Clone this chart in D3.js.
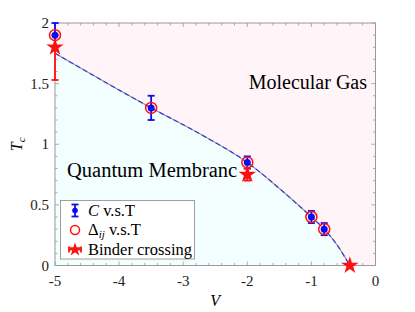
<!DOCTYPE html>
<html><head><meta charset="utf-8">
<script src="https://cdn.jsdelivr.net/npm/d3@7"></script>
<style>
body{margin:0;background:#fff;}
text{font-family:"Liberation Serif","DejaVu Serif",serif;}
</style></head>
<body><svg id="c" width="415" height="312"></svg>
<script>
// ---- data ----
const cV = [-5, -3.5, -2, -1, -0.8];
const cT = [1.9, 1.3, 0.85, 0.4, 0.3];
const cErr = [0.1, 0.1, 0.05, 0.05, 0.05];
const dV = [-5, -3.5, -2, -1, -0.8];
const dT = [1.9, 1.3, 0.85, 0.4, 0.3];
const bV = [-5, -2, -0.4];
const bT = [1.8, 0.75, 0.0];
const bErrLo = [0.27, 0.05, 0.0];
const bErrHi = [0.1, 0.05, 0.0];
const lineV = [-5, -3.5, -2.72, -2, -1.4, -1, -0.8, -0.6, -0.4];
const lineT = [1.75, 1.3, 1.08, 0.85, 0.59, 0.4, 0.3, 0.17, 0.0];
const xTicks = [-5, -4, -3, -2, -1, 0];
const yTicks = [0, 0.5, 1, 1.5, 2];
const xTickLabels = ["-5", "-4", "-3", "-2", "-1", "0"];
const yTickLabels = ["0", "0.5", "1", "1.5", "2"];

const svg = d3.select("#c");
const L = 55, R = 375.5, T = 23, B = 265.5;
const x = d3.scaleLinear().domain([-5, 0]).range([L, R]);
const y = d3.scaleLinear().domain([0, 2]).range([B, T]);

svg.append("defs").append("clipPath").attr("id", "clip")
  .append("rect").attr("x", L).attr("y", T).attr("width", R - L).attr("height", B - T);
const g = svg.append("g").attr("clip-path", "url(#clip)");

const pts = lineV.map((v, i) => [v, lineT[i]]);
g.append("rect").attr("x", L).attr("y", T).attr("width", R - L).attr("height", B - T).attr("fill", "#fff4f8");
const area = d3.area().x(d => x(d[0])).y0(y(0)).y1(d => y(d[1])).curve(d3.curveMonotoneX);
g.append("path").datum(pts).attr("d", area).attr("fill", "#f3ffff");

const line = d3.line().x(d => x(d[0])).y(d => y(d[1])).curve(d3.curveMonotoneX);
g.append("path").datum(pts).attr("d", line).attr("fill", "none").attr("stroke", "#999").attr("stroke-width", 1.2);
g.append("path").datum(pts).attr("d", line).attr("fill", "none").attr("stroke", "#3b3bdc").attr("stroke-width", 1.2).attr("stroke-dasharray", "5,3");

// axes frame and ticks
const axc = "#999";
const minorX = d3.range(-5, 0.001, 0.2);
const minorY = d3.range(0, 2.001, 0.1);
const tk = svg.append("g").attr("stroke", axc).attr("stroke-width", 0.8);
minorX.forEach(v => {
  const isMaj = Math.abs(v - Math.round(v)) < 1e-6;
  const len = isMaj ? 4 : 2.5;
  tk.append("line").attr("x1", x(v)).attr("x2", x(v)).attr("y1", B).attr("y2", B - len);
  tk.append("line").attr("x1", x(v)).attr("x2", x(v)).attr("y1", T).attr("y2", T + len);
});
minorY.forEach(v => {
  const isMaj = Math.abs(v * 2 - Math.round(v * 2)) < 1e-6;
  const len = isMaj ? 4 : 2.5;
  tk.append("line").attr("y1", y(v)).attr("y2", y(v)).attr("x1", L).attr("x2", L + len);
  tk.append("line").attr("y1", y(v)).attr("y2", y(v)).attr("x1", R).attr("x2", R - len);
});
svg.append("rect").attr("x", L).attr("y", T).attr("width", R - L).attr("height", B - T)
  .attr("fill", "none").attr("stroke", axc).attr("stroke-width", 1);

// tick labels
xTicks.forEach((v, i) => {
  svg.append("text").attr("x", x(v)).attr("y", 286).attr("text-anchor", "middle")
    .attr("font-size", 15).attr("fill", "#222").text(xTickLabels[i]);
});
yTicks.forEach((v, i) => {
  svg.append("text").attr("x", 49).attr("y", y(v) + 5).attr("text-anchor", "end")
    .attr("font-size", 15).attr("fill", "#222").text(yTickLabels[i]);
});
// axis labels
svg.append("text").attr("x", x(-2.5)).attr("y", 306).attr("text-anchor", "middle")
  .attr("font-size", 16).attr("font-style", "italic").text("V");
const yl = svg.append("text").attr("transform", "translate(22," + ((T + B) / 2) + ") rotate(-90)")
  .attr("text-anchor", "middle").attr("font-size", 16);
yl.append("tspan").attr("font-style", "italic").text("T");
yl.append("tspan").attr("font-style", "italic").attr("font-size", 11).attr("dy", 3).text("c");

// region labels
svg.append("text").attr("x", 367).attr("y", 89).attr("text-anchor", "end").attr("font-size", 20).text("Molecular Gas");
svg.append("text").attr("x", 67).attr("y", 177).attr("font-size", 20.5).text("Quantum Membranc");

// markers
const blue = "#0b0bf5", red = "#ff1010";
const pg = svg.append("g");
function vErr(gg, cx, cy0, cy1, col, w) {
  gg.append("line").attr("x1", cx).attr("x2", cx).attr("y1", cy0).attr("y2", cy1).attr("stroke", col).attr("stroke-width", w);
  [cy0, cy1].forEach(yy => gg.append("line").attr("x1", cx - 3.5).attr("x2", cx + 3.5).attr("y1", yy).attr("y2", yy).attr("stroke", col).attr("stroke-width", w));
}
cV.forEach((v, i) => vErr(pg, x(v), y(cT[i] - cErr[i]), y(cT[i] + cErr[i]), blue, 1.8));
bV.forEach((v, i) => { if (bErrLo[i] > 0) vErr(pg, x(v), y(bT[i] - bErrLo[i]), y(bT[i] + bErrHi[i]), red, 1.8); });
cV.forEach((v, i) => pg.append("circle").attr("cx", x(v)).attr("cy", y(cT[i])).attr("r", 3.5).attr("fill", blue));
dV.forEach((v, i) => pg.append("circle").attr("cx", x(v)).attr("cy", y(dT[i])).attr("r", 5.5).attr("fill", "none").attr("stroke", red).attr("stroke-width", 1.5));
const star = d3.symbol().type(d3.symbolStar).size(95);
bV.forEach((v, i) => pg.append("path").attr("d", star).attr("transform", `translate(${x(v)},${y(bT[i])})`).attr("fill", red));

// legend
const lg = svg.append("g");
lg.append("rect").attr("x", 60.5).attr("y", 200.5).attr("width", 134).attr("height", 58.5).attr("fill", "#fff").attr("stroke", "#888").attr("stroke-width", 0.8);
const ly = [210.5, 230, 249.5];
const mx = 75;
vErr(lg, mx, ly[0] - 6, ly[0] + 6, blue, 1.8);
lg.append("circle").attr("cx", mx).attr("cy", ly[0]).attr("r", 2.8).attr("fill", blue);
lg.append("circle").attr("cx", mx).attr("cy", ly[1]).attr("r", 4.5).attr("fill", "none").attr("stroke", red).attr("stroke-width", 1.5);
lg.append("line").attr("x1", mx - 6).attr("x2", mx + 6).attr("y1", ly[2]).attr("y2", ly[2]).attr("stroke", red).attr("stroke-width", 1.8);
[mx - 6, mx + 6].forEach(xx => lg.append("line").attr("x1", xx).attr("x2", xx).attr("y1", ly[2] - 3).attr("y2", ly[2] + 3).attr("stroke", red).attr("stroke-width", 1.8));
lg.append("path").attr("d", d3.symbol().type(d3.symbolStar).size(60)).attr("transform", `translate(${mx},${ly[2]})`).attr("fill", red);
const t1 = lg.append("text").attr("x", 88).attr("y", ly[0] + 5).attr("font-size", 16.5);
t1.append("tspan").attr("font-style", "italic").text("C");
t1.append("tspan").text(" v.s.T");
const t2 = lg.append("text").attr("x", 88).attr("y", ly[1] + 5).attr("font-size", 16.5);
t2.append("tspan").text("Δ");
t2.append("tspan").attr("font-style", "italic").attr("font-size", 11).attr("dy", 3).text("ij");
t2.append("tspan").attr("dy", -3).text(" v.s.T");
lg.append("text").attr("x", 88).attr("y", ly[2] + 5).attr("font-size", 16.5).text("Binder crossing");
</script></body></html>
